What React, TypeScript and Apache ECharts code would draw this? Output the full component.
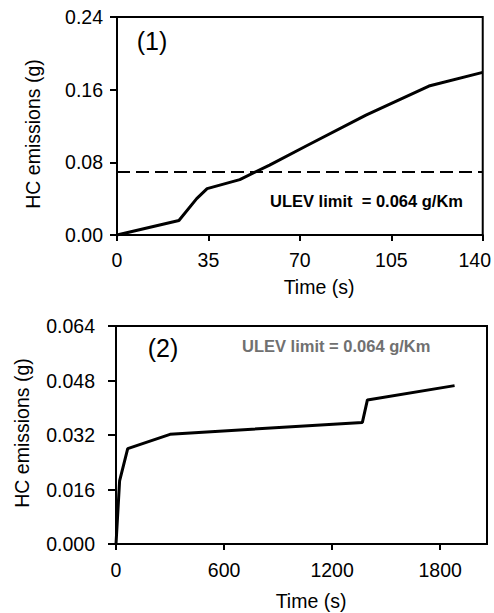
import React, { useEffect, useRef } from "react";
import * as echarts from "echarts";

// Panel (1)
const topTime = [0, 23.7, 30.5, 34.5, 47, 58.4, 72.4, 95.3, 119.4, 140];
const topHC = [0, 0.016, 0.04, 0.051, 0.061, 0.077, 0.098, 0.132, 0.164, 0.179];
const topXTicks = [0, 35, 70, 105, 140];
const topYTicks = [0, 0.08, 0.16, 0.24];

// Panel (2)
const bottomTime = [0, 20, 65, 300, 1368, 1396, 1880];
const bottomHC = [0, 0.0185, 0.028, 0.0322, 0.0357, 0.0423, 0.0465];
const bottomXTicks = [0, 600, 1200, 1800];
const bottomYTicks = [0, 0.016, 0.032, 0.048, 0.064];

const ulevLimit = 0.065;
const ulevTextTop = "ULEV limit  = 0.064 g/Km";
const ulevTextBottom = "ULEV limit = 0.064 g/Km";
const yTitle = "HC emissions (g)";
const xTitle = "Time (s)";

const FONT = "'Liberation Sans', Arial, Helvetica, sans-serif";
const TICK_FS = 19.5;

export default function App() {
  const ref = useRef<HTMLDivElement>(null);
  useEffect(() => {
    if (!ref.current) return;
    const chart = echarts.init(ref.current, undefined, { renderer: "svg" });
    const axisLine = { show: true, lineStyle: { color: "#000", width: 2 } };
    const label = (fmt: (v: number) => string, margin: number) => ({
      color: "#000",
      fontSize: TICK_FS,
      fontFamily: FONT,
      margin,
      formatter: fmt,
    });
    const text = (t: string, x: number, y: number, size: number, extra: any = {}) => ({
      type: "text",
      x,
      y,
      rotation: extra.rotation || 0,
      style: {
        text: t,
        x: 0,
        y: 0,
        fill: extra.fill || "#000",
        fontSize: size,
        fontFamily: FONT,
        fontWeight: extra.fontWeight || "normal",
        align: extra.align || "center",
        verticalAlign: "middle",
      },
    });
    chart.setOption({
      animation: false,
      grid: [
        { left: 117, top: 17, width: 368, height: 218, show: true, borderColor: "#000", borderWidth: 2, containLabel: false },
        { left: 116, top: 326, width: 371, height: 218, show: true, borderColor: "#000", borderWidth: 2, containLabel: false },
      ],
      xAxis: [
        {
          type: "value",
          gridIndex: 0,
          min: topXTicks[0],
          max: topXTicks[topXTicks.length - 1],
          interval: 35,
          axisLine,
          axisTick: { show: true, length: 6, lineStyle: { color: "#000", width: 2 } },
          splitLine: { show: false },
          axisLabel: {
            ...label((v: number) => (v === 140 ? "{r|" + v + "}" : String(v)), 15),
            rich: { r: { fontSize: TICK_FS, fontFamily: FONT, color: "#000", padding: [0, 16, 0, 0] } },
          },
        },
        {
          type: "value",
          gridIndex: 1,
          min: 0,
          max: 2060,
          interval: 600,
          axisLine,
          axisTick: { show: true, length: 6, lineStyle: { color: "#000", width: 2 }, customValues: bottomXTicks },
          splitLine: { show: false },
          axisLabel: { ...label((v: number) => String(v), 16), customValues: bottomXTicks },
        },
      ],
      yAxis: [
        {
          type: "value",
          gridIndex: 0,
          min: topYTicks[0],
          max: topYTicks[topYTicks.length - 1],
          interval: 0.08,
          axisLine,
          axisTick: { show: true, length: 7, lineStyle: { color: "#000", width: 2 } },
          splitLine: { show: false },
          axisLabel: label((v: number) => v.toFixed(2), 14),
        },
        {
          type: "value",
          gridIndex: 1,
          min: bottomYTicks[0],
          max: bottomYTicks[bottomYTicks.length - 1],
          interval: 0.016,
          axisLine,
          axisTick: { show: true, length: 8, lineStyle: { color: "#000", width: 2 } },
          splitLine: { show: false },
          axisLabel: label((v: number) => v.toFixed(3), 21),
        },
      ],
      series: [
        {
          type: "line",
          xAxisIndex: 0,
          yAxisIndex: 0,
          data: topTime.map((t, i) => [t, topHC[i]]),
          showSymbol: false,
          symbol: "none",
          lineStyle: { color: "#000", width: 3 },
          markLine: {
            silent: true,
            symbol: "none",
            label: { show: false },
            lineStyle: { color: "#000", width: 2, type: [13, 6] },
            data: [{ yAxis: ulevLimit }],
          },
        },
        {
          type: "line",
          xAxisIndex: 1,
          yAxisIndex: 1,
          data: bottomTime.map((t, i) => [t, bottomHC[i]]),
          showSymbol: false,
          symbol: "none",
          lineStyle: { color: "#000", width: 3 },
        },
      ],
      graphic: [
        text(yTitle, 33, 134, 19.5, { rotation: Math.PI / 2 }),
        text(xTitle, 319, 287, 19.5),
        text(yTitle, 22, 433, 19.5, { rotation: Math.PI / 2 }),
        text(xTitle, 311, 601, 19.5),
        text("(1)", 152, 41, 25),
        text("(2)", 163, 348, 25),
        text(ulevTextTop, 270, 201, 16.5, { fontWeight: "bold", align: "left" }),
        text(ulevTextBottom, 242, 346, 16.5, { fontWeight: "bold", align: "left", fill: "#707070" }),
      ],
    });
    return () => chart.dispose();
  }, []);
  return (
    <div
      ref={ref}
      style={{ position: "fixed", left: 0, top: 0, width: 494, height: 613, background: "#fff" }}
    />
  );
}
